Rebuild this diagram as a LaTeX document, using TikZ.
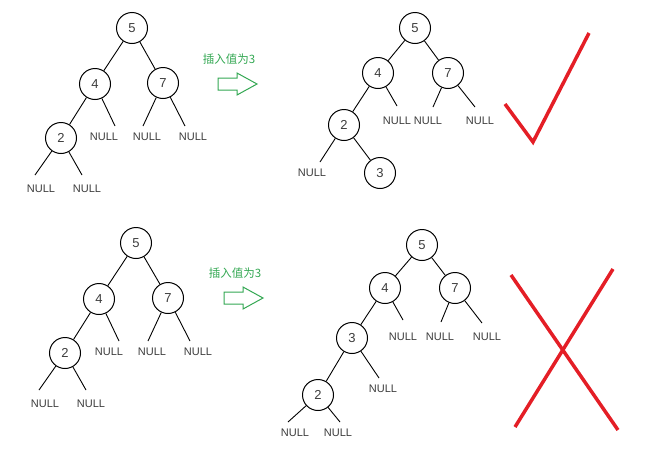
\documentclass[tikz,border=0pt]{standalone}
\usepackage{fontspec}
\setmainfont{Liberation Sans}
\newfontfamily\cjk{Noto Sans CJK SC}
\definecolor{okred}{RGB}{228,30,38}
\definecolor{insgreen}{RGB}{52,168,83}
\definecolor{txtgray}{RGB}{60,60,60}
\begin{document}
\begin{tikzpicture}[x=1pt,y=-1pt,
  bnode/.style={circle,draw,line width=1pt,minimum size=31pt,inner sep=0pt,
    font=\fontsize{13}{13}\selectfont,text=txtgray},
  nul/.style={inner sep=0pt,font=\fontsize{11}{11}\selectfont,text=txtgray},
  tedge/.style={line width=0.9pt},
  inslabel/.style={inner sep=0pt,font=\cjk\fontsize{11.5}{12}\selectfont,text=insgreen},
  blockarrow/.style={draw=insgreen,line width=1pt,fill=white,line join=miter},
  redmark/.style={draw=okred,line width=3.5pt}]
\useasboundingbox (0,0) rectangle (666,461);

% ---------- top-left tree ----------
\node[bnode] (a5) at (132,28) {5};
\node[bnode] (a4) at (95,84) {4};
\node[bnode] (a7) at (163,83) {7};
\node[bnode] (a2) at (61,138) {2};
\node[nul] (an4) at (104,137) {NULL};
\node[nul] (an7a) at (147,137) {NULL};
\node[nul] (an7b) at (193,137) {NULL};
\node[nul] (an2a) at (41,189) {NULL};
\node[nul] (an2b) at (87,189) {NULL};
\coordinate (ae4) at (115,126);
\coordinate (ae7a) at (143,126);
\coordinate (ae7b) at (185,126);
\coordinate (ae2a) at (35,175);
\coordinate (ae2b) at (82,175);
\draw[tedge] (a5)--(a4);
\draw[tedge] (a5)--(a7);
\draw[tedge] (a4)--(a2);
\draw[tedge] (a4)--(ae4);
\draw[tedge] (a7)--(ae7a);
\draw[tedge] (a7)--(ae7b);
\draw[tedge] (a2)--(ae2a);
\draw[tedge] (a2)--(ae2b);

% ---------- top arrow ----------
\node[inslabel] (lab1) at (229,59) {插入值为3};
\draw[blockarrow] (218,78)--(237,78)--(237,73)--(257,84)--(237,95)--(237,90)--(218,90)--cycle;

% ---------- top-right tree ----------
\node[bnode] (b5) at (415,28) {5};
\node[bnode] (b4) at (378,73) {4};
\node[bnode] (b7) at (448,73) {7};
\node[bnode] (b2) at (344,125) {2};
\node[bnode] (b3) at (380,173) {3};
\node[nul] (bn4) at (397,121) {NULL};
\node[nul] (bn7a) at (428,121) {NULL};
\node[nul] (bn7b) at (480,121) {NULL};
\node[nul] (bn2a) at (312,173) {NULL};
\coordinate (be4) at (397,106);
\coordinate (be7a) at (433,107);
\coordinate (be7b) at (475,107);
\coordinate (be2a) at (320,162);
\draw[tedge] (b5)--(b4);
\draw[tedge] (b5)--(b7);
\draw[tedge] (b4)--(b2);
\draw[tedge] (b4)--(be4);
\draw[tedge] (b7)--(be7a);
\draw[tedge] (b7)--(be7b);
\draw[tedge] (b2)--(be2a);
\draw[tedge] (b2)--(b3);

% check mark
\draw[redmark,line join=miter] (505,104)--(533,142)--(589,33);

% ---------- bottom-left tree ----------
\node[bnode] (c5) at (136,243) {5};
\node[bnode] (c4) at (99,299) {4};
\node[bnode] (c7) at (168,298) {7};
\node[bnode] (c2) at (65,353) {2};
\node[nul] (cn4) at (109,352) {NULL};
\node[nul] (cn7a) at (152,352) {NULL};
\node[nul] (cn7b) at (198,352) {NULL};
\node[nul] (cn2a) at (45,404) {NULL};
\node[nul] (cn2b) at (91,404) {NULL};
\coordinate (ce4) at (119,341);
\coordinate (ce7a) at (148,341);
\coordinate (ce7b) at (190,341);
\coordinate (ce2a) at (39,390);
\coordinate (ce2b) at (86,390);
\draw[tedge] (c5)--(c4);
\draw[tedge] (c5)--(c7);
\draw[tedge] (c4)--(c2);
\draw[tedge] (c4)--(ce4);
\draw[tedge] (c7)--(ce7a);
\draw[tedge] (c7)--(ce7b);
\draw[tedge] (c2)--(ce2a);
\draw[tedge] (c2)--(ce2b);

% ---------- bottom arrow ----------
\node[inslabel] (lab2) at (235,273) {插入值为3};
\draw[blockarrow] (224,292)--(243,292)--(243,287)--(263,298)--(243,309)--(243,304)--(224,304)--cycle;

% ---------- bottom-right tree ----------
\node[bnode] (d5) at (422,245) {5};
\node[bnode] (d4) at (385,288) {4};
\node[bnode] (d7) at (455,288) {7};
\node[bnode] (d3) at (352,338) {3};
\node[bnode] (d2) at (318,395) {2};
\node[nul] (dn4) at (403,337) {NULL};
\node[nul] (dn7a) at (440,337) {NULL};
\node[nul] (dn7b) at (487,337) {NULL};
\node[nul] (dn3) at (383,389) {NULL};
\node[nul] (dn2a) at (295,433) {NULL};
\node[nul] (dn2b) at (338,433) {NULL};
\coordinate (de4) at (403,320);
\coordinate (de7a) at (441,322);
\coordinate (de7b) at (482,323);
\coordinate (de3) at (379,378);
\coordinate (de2a) at (288,422);
\coordinate (de2b) at (340,422);
\draw[tedge] (d5)--(d4);
\draw[tedge] (d5)--(d7);
\draw[tedge] (d4)--(d3);
\draw[tedge] (d4)--(de4);
\draw[tedge] (d7)--(de7a);
\draw[tedge] (d7)--(de7b);
\draw[tedge] (d3)--(d2);
\draw[tedge] (d3)--(de3);
\draw[tedge] (d2)--(de2a);
\draw[tedge] (d2)--(de2b);

% cross
\draw[redmark] (511,275)--(618,430);
\draw[redmark] (613,269)--(515,427);
\end{tikzpicture}
\end{document}
